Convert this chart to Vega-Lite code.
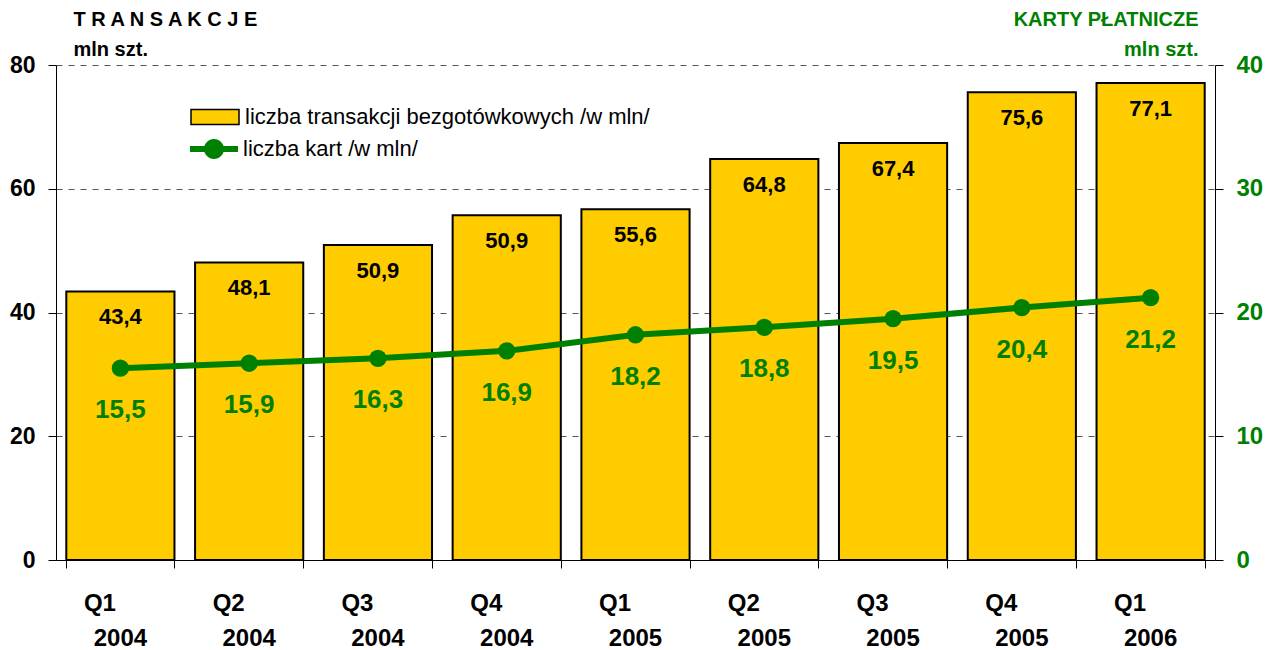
{
  "$schema": "https://vega.github.io/schema/vega-lite/v6.json",
  "autosize": "none",
  "width": 1159,
  "height": 495,
  "padding": {"left": 56, "top": 65, "right": 64, "bottom": 90},
  "background": "white",
  "config": {
    "view": {"stroke": null},
    "font": "Liberation Sans",
    "axis": {"labelFont": "Liberation Sans", "titleFont": "Liberation Sans"},
    "legend": {"labelFont": "Liberation Sans"}
  },
  "data": {
    "values": [
      {"q": "Q1 2004", "t": 43.4, "tl": "43,4", "k": 15.5, "kl": "15,5"},
      {"q": "Q2 2004", "t": 48.1, "tl": "48,1", "k": 15.9, "kl": "15,9"},
      {"q": "Q3 2004", "t": 50.9, "tl": "50,9", "k": 16.3, "kl": "16,3"},
      {"q": "Q4 2004", "t": 55.7, "tl": "50,9", "k": 16.9, "kl": "16,9"},
      {"q": "Q1 2005", "t": 56.7, "tl": "55,6", "k": 18.2, "kl": "18,2"},
      {"q": "Q2 2005", "t": 64.8, "tl": "64,8", "k": 18.8, "kl": "18,8"},
      {"q": "Q3 2005", "t": 67.4, "tl": "67,4", "k": 19.5, "kl": "19,5"},
      {"q": "Q4 2005", "t": 75.6, "tl": "75,6", "k": 20.4, "kl": "20,4"},
      {"q": "Q1 2006", "t": 77.1, "tl": "77,1", "k": 21.2, "kl": "21,2"}
    ]
  },
  "resolve": {"scale": {"y": "independent"}, "axis": {"x": "independent"}},
  "layer": [
    {
      "layer": [
        {
          "mark": {"type": "bar", "stroke": "black", "strokeWidth": 2},
          "encoding": {
            "x": {
              "field": "q", "type": "nominal", "sort": null,
              "scale": {"type": "band", "paddingInner": 0.16, "paddingOuter": 0.08},
              "axis": {
                "orient": "bottom", "title": null, "labelAngle": 0,
                "labelExpr": "datum.value ? split(datum.value, ' ')[0] : ''",
                "labelFontSize": 24, "labelFontWeight": "bold", "labelColor": "black",
                "labelBaseline": "alphabetic", "labelPadding": 42, "labelOffset": -21,
                "tickBand": "extent", "tickSize": 8, "tickColor": "black",
                "domainColor": "black", "domainWidth": 1, "grid": false
              }
            },
            "y": {
              "field": "t", "type": "quantitative",
              "scale": {"domain": [0, 80], "nice": false},
              "axis": {
                "values": [0, 20, 40, 60, 80],
                "title": ["T R A N S A K C J E", "mln szt."],
                "titleAngle": 0, "titleAlign": "left", "titleBaseline": "alphabetic",
                "titleX": 17, "titleY": -40, "titleFontSize": 20, "titleFontWeight": "bold",
                "titleColor": "black", "titleLineHeight": 30,
                "labelFontSize": 23, "labelFontWeight": "bold", "labelColor": "black",
                "labelPadding": 13, "tickSize": 8, "tickColor": "black",
                "domainColor": "black", "grid": true, "gridColor": "#555555",
                "gridDash": [6, 6], "gridWidth": 1
              }
            },
            "fill": {
              "datum": "liczba transakcji bezgotówkowych /w mln/",
              "scale": {"range": ["#FFCC00"]},
              "legend": {
                "orient": "none", "legendX": 134, "legendY": 27, "title": null,
                "padding": 0,
                "symbolType": "M-1,-0.3125H1V0.3125H-1Z",
                "symbolSize": 2304, "symbolStrokeColor": "black", "symbolStrokeWidth": 1.5,
                "symbolFillColor": "#FFCC00",
                "labelFontSize": 22, "labelColor": "black", "labelOffset": 5, "labelLimit": 700
              }
            }
          }
        },
        {
          "mark": {"type": "text", "fontSize": 22, "fontWeight": "bold", "color": "black", "baseline": "alphabetic", "dy": 33},
          "encoding": {
            "x": {"field": "q", "type": "nominal", "sort": null},
            "y": {"field": "t", "type": "quantitative"},
            "text": {"field": "tl"}
          }
        }
      ]
    },
    {
      "layer": [
        {
          "mark": {"type": "line", "strokeWidth": 6},
          "encoding": {
            "x": {
              "field": "q", "type": "nominal", "sort": null,
              "axis": {
                "orient": "bottom", "title": null, "labelAngle": 0,
                "labelExpr": "datum.value ? split(datum.value, ' ')[1] : ''",
                "labelFontSize": 24, "labelFontWeight": "bold", "labelColor": "black",
                "labelBaseline": "alphabetic", "labelPadding": 85,
                "ticks": false, "tickSize": 0, "domain": false, "grid": false
              }
            },
            "y": {
              "field": "k", "type": "quantitative",
              "scale": {"domain": [0, 40], "nice": false},
              "axis": {
                "orient": "right", "values": [0, 10, 20, 30, 40],
                "title": ["KARTY PŁATNICZE", "mln szt."],
                "titleAngle": 0, "titleAlign": "right", "titleBaseline": "alphabetic",
                "titleX": -17, "titleY": -40, "titleFontSize": 20, "titleFontWeight": "bold",
                "titleColor": "#008000", "titleLineHeight": 30,
                "labelFontSize": 24, "labelFontWeight": "bold", "labelColor": "#008000",
                "labelPadding": 13, "tickSize": 8, "tickColor": "black",
                "domainColor": "black", "grid": false
              }
            },
            "stroke": {
              "datum": "liczba kart /w mln/",
              "scale": {"range": ["#008000"]},
              "legend": {
                "orient": "none", "legendX": 134, "legendY": 60, "title": null,
                "padding": 0,
                "symbolType": "M-1,-0.125H1V0.125H-1Z M0.4167,0A0.4167,0.4167 0 1 1 -0.4167,0A0.4167,0.4167 0 1 1 0.4167,0Z",
                "symbolSize": 2304, "symbolStrokeWidth": 0, "symbolFillColor": "#008000",
                "labelFontSize": 22, "labelColor": "black", "labelOffset": 5, "labelLimit": 700,
                "encode": {"symbols": {"update": {"fill": {"value": "#008000"}, "strokeWidth": {"value": 0}, "opacity": {"value": 1}}}}
              }
            }
          }
        },
        {
          "mark": {"type": "point", "filled": true, "color": "#008000", "size": 300, "opacity": 1},
          "encoding": {
            "x": {"field": "q", "type": "nominal", "sort": null},
            "y": {"field": "k", "type": "quantitative"}
          }
        },
        {
          "mark": {"type": "text", "fontSize": 26, "fontWeight": "bold", "color": "#008000", "baseline": "alphabetic", "dy": 50},
          "encoding": {
            "x": {"field": "q", "type": "nominal", "sort": null},
            "y": {"field": "k", "type": "quantitative"},
            "text": {"field": "kl"}
          }
        }
      ]
    }
  ]
}
